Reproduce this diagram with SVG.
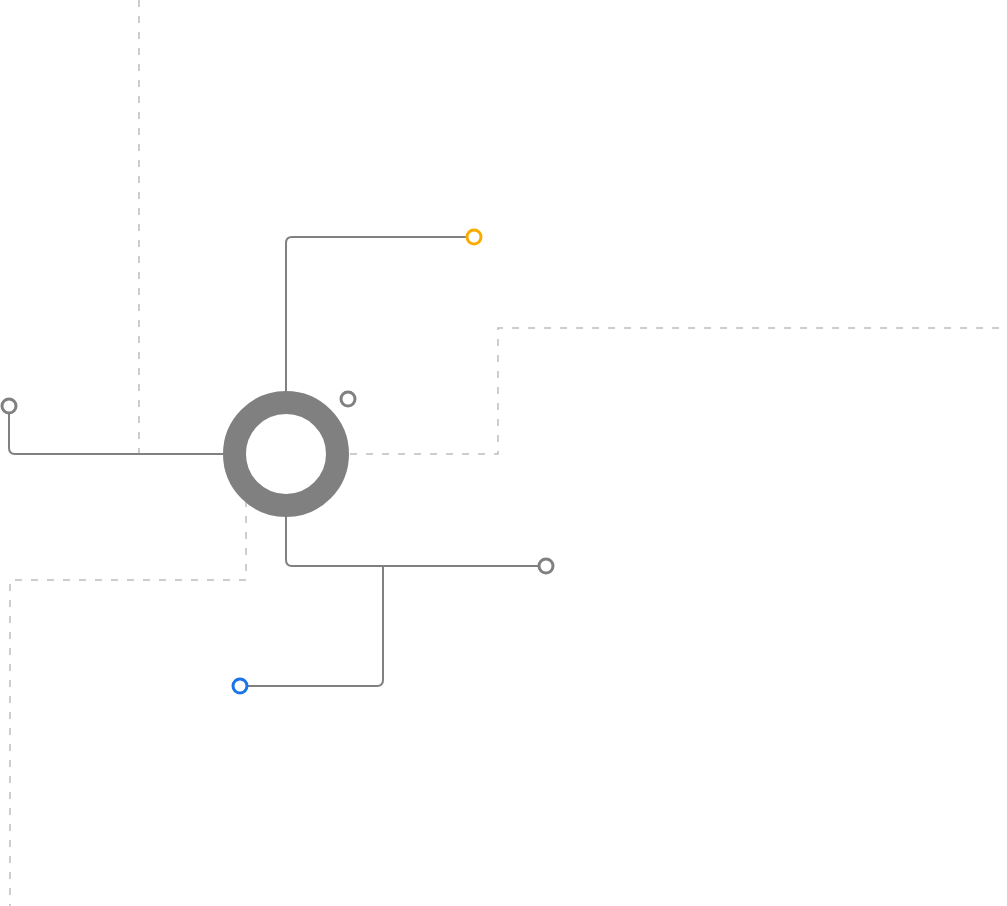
<svg xmlns="http://www.w3.org/2000/svg" width="1007" height="906" viewBox="0 0 1007 906">
<style>
.dash{fill:none;stroke:#bdbdbd;stroke-width:1.5;stroke-dasharray:7 9}
.wire{fill:none;stroke:#808080;stroke-width:2}
.dot{fill:#fff;stroke-width:3}
</style>
<rect width="1007" height="906" fill="#fff"/>
<g id="connectors">
<path class="dash" d="M139,0 V454"/>
<path class="dash" d="M350,454 H498 V328 H1007"/>
<path class="dash" d="M246,500 V580 H10 V906"/>
<path class="wire" d="M286,391 V243 Q286,237 292,237 H467"/>
<path class="wire" d="M223,454 H15 Q9,454 9,448 V413"/>
<path class="wire" d="M286,517 V560 Q286,566 292,566 H539"/>
<path class="wire" d="M383,566 V680 Q383,686 377,686 H247"/>
</g>
<g id="hub"><circle cx="286" cy="454" r="51.5" fill="none" stroke="#7f807f" stroke-width="23"/></g>
<g id="node-top"><circle class="dot" cx="474" cy="237" r="7" stroke="#f9ab00"/></g>
<g id="node-left"><circle class="dot" cx="9" cy="406" r="7" stroke="#808080"/></g>
<g id="node-small"><circle class="dot" cx="348" cy="399" r="7" stroke="#808080"/></g>
<g id="node-right"><circle class="dot" cx="546" cy="566" r="7" stroke="#808080"/></g>
<g id="node-blue"><circle class="dot" cx="240" cy="686" r="7" stroke="#1a73e8"/></g>
</svg>
